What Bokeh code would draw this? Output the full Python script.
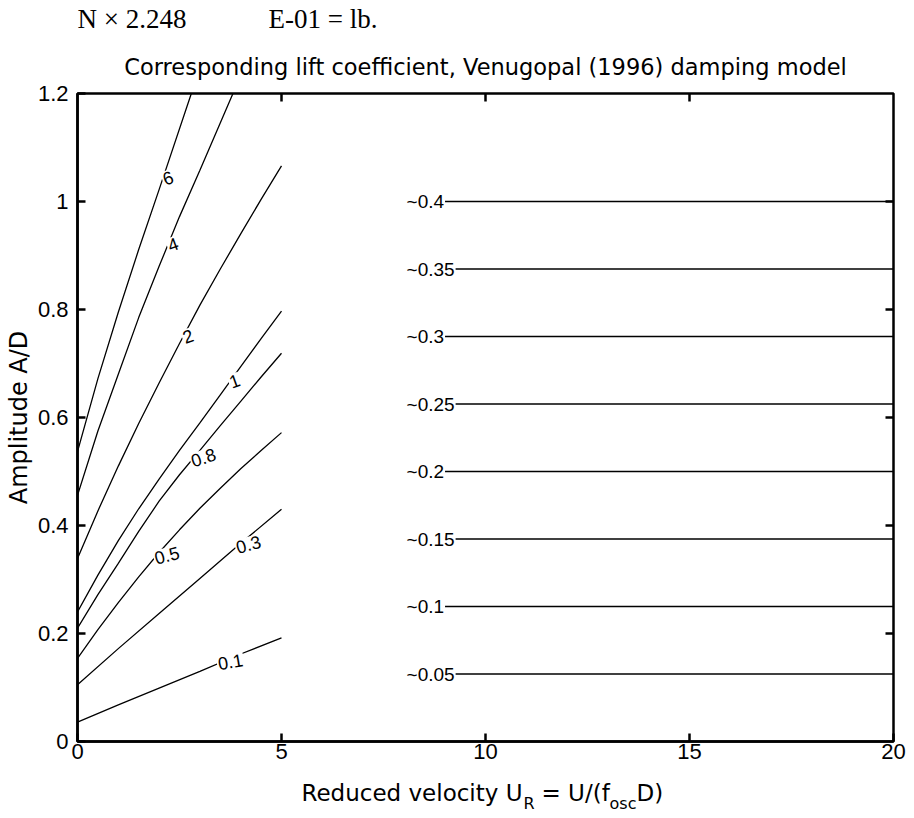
import numpy as np
from bokeh.plotting import figure
from bokeh.layouts import column
from bokeh.models import FixedTicker, CustomJSTickFormatter, Range1d, ColumnDataSource
from bokeh.core.properties import value
from bokeh.embed import file_html
from bokeh.resources import INLINE

# ---------------- data ----------------
x_ticks = [0, 5, 10, 15, 20]
y_ticks = [0, 0.2, 0.4, 0.6, 0.8, 1.0, 1.2]

# left family of contours (reduced velocity 0..5)
left_labels = ["0.1", "0.3", "0.5", "0.8", "1", "2", "4", "6"]
ur_01 = [0, 1, 2, 3, 4, 5]
amp_01 = [0.036, 0.068, 0.099, 0.130, 0.162, 0.192]
ur_03 = [0, 1, 2, 3, 4, 5]
amp_03 = [0.105, 0.172, 0.237, 0.302, 0.367, 0.430]
ur_05 = [0, 0.5, 1, 1.5, 2, 2.5, 3, 3.5, 4, 4.5, 5]
amp_05 = [0.154, 0.207, 0.257, 0.305, 0.350, 0.392, 0.432, 0.469, 0.505, 0.539, 0.572]
ur_08 = [0, 0.5, 1, 1.5, 2, 2.5, 3, 3.5, 4, 4.5, 5]
amp_08 = [0.210, 0.272, 0.330, 0.389, 0.445, 0.494, 0.539, 0.585, 0.630, 0.675, 0.719]
ur_1 = [0, 0.5, 1, 1.5, 2, 2.5, 3, 3.5, 4, 4.5, 5]
amp_1 = [0.240, 0.308, 0.372, 0.431, 0.486, 0.539, 0.590, 0.642, 0.694, 0.746, 0.797]
ur_2 = [0, 0.5, 1, 1.5, 2, 2.5, 3, 3.5, 4, 4.5, 5]
amp_2 = [0.339, 0.427, 0.510, 0.589, 0.664, 0.737, 0.808, 0.875, 0.940, 1.004, 1.066]
ur_4 = [0, 0.5, 1, 1.5, 2, 2.5, 3, 3.81]
amp_4 = [0.456, 0.575, 0.680, 0.785, 0.880, 0.972, 1.058, 1.200]
ur_6 = [0, 0.5, 1, 1.5, 2, 2.79]
amp_6 = [0.537, 0.672, 0.795, 0.911, 1.022, 1.200]
label_ur = [3.42, 3.87, 1.87, 2.77, 3.71, 2.57, 2.20, 2.08]
label_angle = [10, 15, 15, 18, 20, 20, 20, 20]

# right family (horizontal contours)
right_levels = [0.05, 0.1, 0.15, 0.2, 0.25, 0.3, 0.35, 0.4]
right_amp = [0.125, 0.25, 0.375, 0.5, 0.625, 0.75, 0.875, 1.0]
right_ur_start = 8.1
right_ur_end = 20.0

left_x = [ur_01, ur_03, ur_05, ur_08, ur_1, ur_2, ur_4, ur_6]
left_y = [amp_01, amp_03, amp_05, amp_08, amp_1, amp_2, amp_4, amp_6]

# header / x-axis label texts
header_texts = ["N \u00d7 2.248", "E-01 = lb."]
xlabel_texts = ["Reduced velocity U", "R", "= U/(f", "osc", "D)"]

TICK_FONT = "Liberation Sans"
LAB_FONT = "DejaVu Sans"
PAGE_W = 914
BORDER_L, BORDER_R = 77, 21
HEAD_H, MAIN_H, FOOT_H = 35, 740, 43


def text_strip(h):
    # a frame-only strip whose data coordinates equal page pixels
    f = figure(width=PAGE_W, height=h, title=None,
               x_range=Range1d(BORDER_L, PAGE_W - BORDER_R), y_range=Range1d(h, 0),
               output_backend="svg", toolbar_location=None,
               min_border_left=BORDER_L, min_border_right=BORDER_R,
               min_border_top=0, min_border_bottom=0,
               x_axis_type=None, y_axis_type=None,
               background_fill_color="white", border_fill_color="white")
    f.grid.visible = False
    f.outline_line_color = None
    return f


# ---------------- header strip ----------------
head = text_strip(HEAD_H)
head.text(x=[77, 268], y=[18, 18], text=header_texts,
          text_font=value("Liberation Serif"), text_font_size="27px",
          text_color="black", text_align="left", text_baseline="alphabetic")

# ---------------- main figure ----------------
X0, X1, Y0, Y1 = 0, 20, 0, 1.2
FRAME_W, FRAME_H = 816, 648
p = figure(width=PAGE_W, height=MAIN_H, x_range=Range1d(X0, X1), y_range=Range1d(Y0, Y1),
           output_backend="svg", toolbar_location=None,
           min_border_left=BORDER_L, min_border_right=BORDER_R,
           min_border_top=58, min_border_bottom=34,
           background_fill_color="white", border_fill_color="white")
p.grid.visible = False
p.outline_line_color = "black"
p.outline_line_width = 2.5

for ax in (p.xaxis[0], p.yaxis[0]):
    ax.axis_line_width = 2.5
    ax.major_tick_in = 8
    ax.major_tick_out = 0
    ax.major_tick_line_width = 2.5
    ax.minor_tick_line_color = None
    ax.major_label_text_font = TICK_FONT
    ax.major_label_text_font_size = "22px"
    ax.major_label_text_color = "black"

p.xaxis.ticker = FixedTicker(ticks=x_ticks)
p.xaxis.major_label_standoff = 2
p.yaxis.ticker = FixedTicker(ticks=y_ticks)
p.yaxis.formatter = CustomJSTickFormatter(code="return String(Math.round(tick*10)/10);")
p.yaxis.major_label_standoff = 9
p.yaxis.axis_label = "Amplitude A/D"
p.yaxis.axis_label_text_font = LAB_FONT
p.yaxis.axis_label_text_font_size = "24px"
p.yaxis.axis_label_text_font_style = "normal"
p.yaxis.axis_label_text_color = "black"
p.yaxis.axis_label_standoff = 2

# inward ticks on the top and right sides of the box
tick_len_x = 8 * (X1 - X0) / FRAME_W
tick_len_y = 8 * (Y1 - Y0) / FRAME_H
inner_x = x_ticks[1:-1]
inner_y = y_ticks[1:-1]
p.segment(x0=inner_x, y0=[Y1] * len(inner_x), x1=inner_x, y1=[Y1 - tick_len_y] * len(inner_x),
          line_color="black", line_width=2.5)
p.segment(x0=[X1] * len(inner_y), y0=inner_y, x1=[X1 - tick_len_x] * len(inner_y), y1=inner_y,
          line_color="black", line_width=2.5)

p.title.text = "Corresponding lift coefficient, Venugopal (1996) damping model"
p.title.align = "center"
p.title.text_font = LAB_FONT
p.title.text_font_size = "22.5px"
p.title.text_font_style = "normal"
p.title.text_color = "black"
p.title.standoff = 28

# ---------------- contours ----------------
for xs, ys in zip(left_x, left_y):
    p.line(xs, ys, line_color="black", line_width=1.3)

lab_y = [float(np.interp(lx, xs, ys)) for lx, xs, ys in zip(label_ur, left_x, left_y)]
src_l = ColumnDataSource(dict(x=label_ur, y=lab_y, t=left_labels,
                              a=[np.deg2rad(a) for a in label_angle]))
p.text(x="x", y="y", text="t", angle="a", source=src_l,
       text_font=value(TICK_FONT), text_font_size="18px", text_color="black",
       text_align="left", text_baseline="middle",
       background_fill_color="white", padding=1)

p.multi_line([[right_ur_start, right_ur_end] for _ in right_amp],
             [[a, a] for a in right_amp], line_color="black", line_width=1.3)
src_r = ColumnDataSource(dict(x=[right_ur_start - 0.06] * len(right_amp), y=right_amp,
                              t=["~" + ("%g" % v) for v in right_levels]))
p.text(x="x", y="y", text="t", source=src_r,
       text_font=value(TICK_FONT), text_font_size="19px", text_color="black",
       text_align="left", text_baseline="middle",
       background_fill_color="white", padding=1)

# ---------------- footer strip: x-axis label with subscripts ----------------
foot = text_strip(FOOT_H)
foot.text(x=[301, 541, 636], y=[17, 17, 17], text=[xlabel_texts[0], xlabel_texts[2], xlabel_texts[4]],
          text_font=value(LAB_FONT), text_font_size="23px", text_color="black",
          text_align="left", text_baseline="alphabetic")
foot.text(x=[523, 609], y=[28, 28], text=[xlabel_texts[1], xlabel_texts[3]],
          text_font=value(LAB_FONT), text_font_size="16px", text_color="black",
          text_align="left", text_baseline="alphabetic")

layout = column(head, p, foot, spacing=0)
open("out.html", "w").write(file_html(layout, INLINE))
